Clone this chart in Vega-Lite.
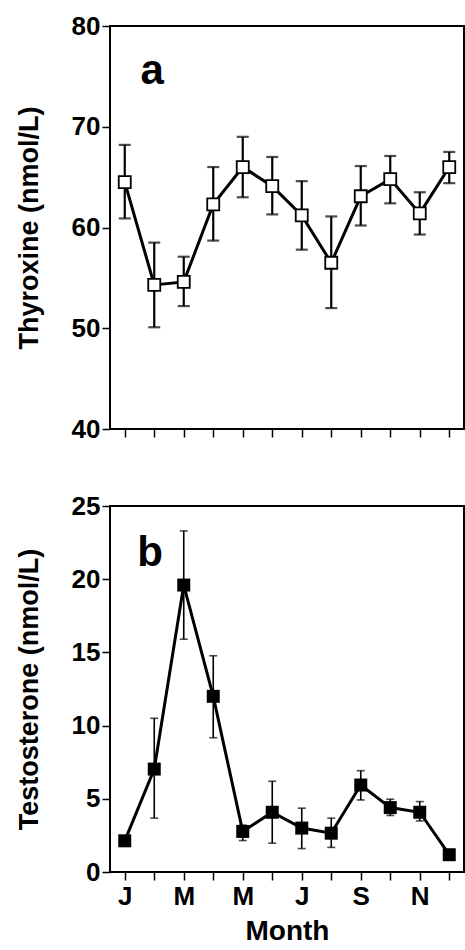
{
  "$schema": "https://vega.github.io/schema/vega-lite/v6.json",
  "padding": {"left": 14, "top": 12, "right": 1, "bottom": 0},
  "spacing": 49,
  "background": "white",
  "config": {
    "view": {"stroke": "black", "strokeWidth": 2},
    "axis": {
      "grid": false,
      "domain": false,
      "tickColor": "black",
      "tickWidth": 1.5,
      "tickSize": 8,
      "labelFont": "Liberation Sans",
      "labelFontSize": 26,
      "labelFontWeight": "bold",
      "labelColor": "black",
      "labelPadding": 2,
      "titleFont": "Liberation Sans",
      "titleFontSize": 27,
      "titleFontWeight": "bold",
      "titleColor": "black"
    }
  },
  "datasets": {
    "monthly": [
      {"month": 1, "t4": 64.5, "t4_lo": 60.9, "t4_hi": 68.2, "tt": 2.13, "tt_lo": 1.9, "tt_hi": 2.4},
      {"month": 2, "t4": 54.3, "t4_lo": 50.1, "t4_hi": 58.5, "tt": 7.03, "tt_lo": 3.68, "tt_hi": 10.5},
      {"month": 3, "t4": 54.6, "t4_lo": 52.2, "t4_hi": 57.1, "tt": 19.6, "tt_lo": 15.9, "tt_hi": 23.3},
      {"month": 4, "t4": 62.3, "t4_lo": 58.7, "t4_hi": 66.0, "tt": 12.0, "tt_lo": 9.17, "tt_hi": 14.77},
      {"month": 5, "t4": 66.0, "t4_lo": 63.0, "t4_hi": 69.0, "tt": 2.77, "tt_lo": 2.15, "tt_hi": 3.2},
      {"month": 6, "t4": 64.1, "t4_lo": 61.3, "t4_hi": 67.0, "tt": 4.08, "tt_lo": 1.97, "tt_hi": 6.2},
      {"month": 7, "t4": 61.2, "t4_lo": 57.8, "t4_hi": 64.6, "tt": 3.0, "tt_lo": 1.6, "tt_hi": 4.36},
      {"month": 8, "t4": 56.5, "t4_lo": 52.0, "t4_hi": 61.1, "tt": 2.65, "tt_lo": 1.68, "tt_hi": 3.68},
      {"month": 9, "t4": 63.1, "t4_lo": 60.2, "t4_hi": 66.1, "tt": 5.94, "tt_lo": 4.92, "tt_hi": 6.92},
      {"month": 10, "t4": 64.8, "t4_lo": 62.4, "t4_hi": 67.1, "tt": 4.4, "tt_lo": 3.86, "tt_hi": 4.97},
      {"month": 11, "t4": 61.4, "t4_lo": 59.3, "t4_hi": 63.5, "tt": 4.08, "tt_lo": 3.49, "tt_hi": 4.81},
      {"month": 12, "t4": 66.0, "t4_lo": 64.4, "t4_hi": 67.5, "tt": 1.18, "tt_lo": 1.0, "tt_hi": 1.35}
    ],
    "letters": [
      {"panel": "a", "label": "a", "x": 1.93, "y": 75.5},
      {"panel": "b", "label": "b", "x": 1.86, "y": 21.8}
    ]
  },
  "vconcat": [
    {
      "width": 354,
      "height": 403,
      "data": {"name": "monthly"},
      "encoding": {
        "x": {
          "field": "month",
          "type": "quantitative",
          "scale": {"domain": [0.5, 12.5], "nice": false, "zero": false},
          "axis": {"values": [1, 2, 3, 4, 5, 6, 7, 8, 9, 10, 11, 12], "labels": false, "title": null}
        }
      },
      "layer": [
        {
          "mark": {"type": "errorbar", "ticks": {"size": 12, "thickness": 2.2, "color": "black"}, "rule": {"strokeWidth": 2.2, "color": "black"}},
          "encoding": {
            "y": {
              "field": "t4_lo",
              "type": "quantitative",
              "scale": {"domain": [40, 80], "nice": false, "zero": false},
              "axis": {"values": [40, 50, 60, 70, 80], "title": "Thyroxine (nmol/L)", "titlePadding": 28}
            },
            "y2": {"field": "t4_hi"}
          }
        },
        {
          "mark": {"type": "line", "color": "black", "strokeWidth": 3},
          "encoding": {"y": {"field": "t4", "type": "quantitative"}}
        },
        {
          "mark": {"type": "point", "shape": "square", "size": 144, "filled": true, "fill": "white", "stroke": "black", "strokeWidth": 1.8, "opacity": 1},
          "encoding": {"y": {"field": "t4", "type": "quantitative"}}
        },
        {
          "data": {"name": "letters"},
          "transform": [{"filter": "datum.panel == 'a'"}],
          "mark": {"type": "text", "font": "Liberation Sans", "fontWeight": "bold", "fontSize": 42, "color": "black", "baseline": "middle", "align": "center"},
          "encoding": {
            "x": {"field": "x", "type": "quantitative"},
            "y": {"field": "y", "type": "quantitative"},
            "text": {"field": "label"}
          }
        }
      ]
    },
    {
      "width": 354,
      "height": 366,
      "data": {"name": "monthly"},
      "encoding": {
        "x": {
          "field": "month",
          "type": "quantitative",
          "scale": {"domain": [0.5, 12.5], "nice": false, "zero": false},
          "axis": {
            "values": [1, 2, 3, 4, 5, 6, 7, 8, 9, 10, 11, 12],
            "labelExpr": "datum.value % 2 == 1 ? ['J','F','M','A','M','J','J','A','S','O','N','D'][datum.value - 1] : ''",
            "labelOverlap": false,
            "labelFlush": false,
            "labelPadding": 3,
            "title": "Month",
            "titleFontSize": 28,
            "titlePadding": 8
          }
        }
      },
      "layer": [
        {
          "mark": {"type": "errorbar", "ticks": {"size": 8, "thickness": 1.6, "color": "black"}, "rule": {"strokeWidth": 1.6, "color": "black"}},
          "encoding": {
            "y": {
              "field": "tt_lo",
              "type": "quantitative",
              "scale": {"domain": [0, 25], "nice": false},
              "axis": {"values": [0, 5, 10, 15, 20, 25], "title": "Testosterone (nmol/L)", "titlePadding": 28}
            },
            "y2": {"field": "tt_hi"}
          }
        },
        {
          "mark": {"type": "line", "color": "black", "strokeWidth": 3},
          "encoding": {"y": {"field": "tt", "type": "quantitative"}}
        },
        {
          "mark": {"type": "point", "shape": "square", "size": 169, "filled": true, "color": "black", "opacity": 1},
          "encoding": {"y": {"field": "tt", "type": "quantitative"}}
        },
        {
          "data": {"name": "letters"},
          "transform": [{"filter": "datum.panel == 'b'"}],
          "mark": {"type": "text", "font": "Liberation Sans", "fontWeight": "bold", "fontSize": 42, "color": "black", "baseline": "middle", "align": "center"},
          "encoding": {
            "x": {"field": "x", "type": "quantitative"},
            "y": {"field": "y", "type": "quantitative"},
            "text": {"field": "label"}
          }
        }
      ]
    }
  ]
}
